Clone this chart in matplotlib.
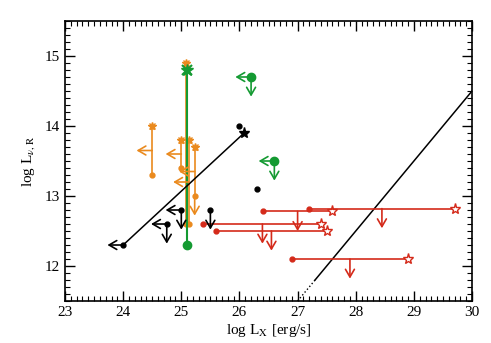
import matplotlib
matplotlib.use("Agg")
import matplotlib.pyplot as plt
import numpy as np
from matplotlib.ticker import MultipleLocator

plt.rcParams['font.family'] = ['Liberation Serif', 'DejaVu Serif']
plt.rcParams['mathtext.fontset'] = 'stix'

BLACK = 'black'
GREEN = '#149a32'
ORANGE = '#ea8a1e'
RED = '#d42a1a'

# black: correlated pair (dot -> star)
blk_line_x = [24.0, 26.08]
blk_line_y = [12.3, 13.9]
blk_dots_x = [26.0, 26.3]
blk_dots_y = [14.0, 13.1]
# black upper limits: x, y, left arrow?, down arrow?
blk_lim_x = [25.0, 24.75, 25.5]
blk_lim_y = [12.8, 12.6, 12.8]
blk_lim_left = [True, True, False]

# green
grn_bar_x = 25.1
grn_bar_top = 14.8
grn_bar_bot = 12.3
grn_lim_x = [26.2, 26.6]
grn_lim_y = [14.7, 13.5]

# orange: x, top (asterisk), bottom (dot)
org_x = [24.5, 25.0, 25.13, 25.23, 25.08]
org_top = [14.0, 13.8, 13.8, 13.7, 14.9]
org_bot = [13.3, 13.4, 12.6, 13.0, 12.6]
org_left = [True, True, True, True, False]
org_down = [False, False, False, True, False]

# red: dot x, star x, y
red_lo = [26.4, 27.2, 25.38, 25.6, 26.9]
red_hi = [27.6, 29.7, 27.41, 27.5, 28.9]
red_y = [12.78, 12.82, 12.6, 12.5, 12.1]

# relation line y = x - 15.5
rel_dot_x = [27.0, 27.3]
rel_x = [27.3, 30.0]

DX = 0.27
DY = 0.28


def arrow(ax, x, y, dx, dy, color):
    ax.annotate('', xy=(x + dx, y + dy), xytext=(x, y),
                arrowprops=dict(arrowstyle='->,head_length=0.55,head_width=0.32',
                                color=color, lw=1.2, shrinkA=0, shrinkB=0))


fig = plt.figure(figsize=(4.91, 3.43), dpi=100)
ax = fig.add_axes([0.1324, 0.1224, 0.829, 0.8164])

# relation lines
ax.plot(rel_dot_x, np.array(rel_dot_x) - 15.5, color=BLACK, lw=1, ls=':')
ax.plot(rel_x, np.array(rel_x) - 15.5, color=BLACK, lw=1.1)

# orange
for x, t, b, l, d in zip(org_x, org_top, org_bot, org_left, org_down):
    ax.plot([x, x], [t, b], color=ORANGE, lw=1.2)
    ax.plot(x, t, marker='*', color=ORANGE, ms=6, mew=1)
    ax.plot(x, t, marker='x', color=ORANGE, ms=4, mew=1)
    ax.plot(x, b, marker='o', color=ORANGE, ms=3.5)
    if l:
        arrow(ax, x, (t + b) / 2, -DX, 0, ORANGE)
    if d:
        arrow(ax, x, b, 0, -DY, ORANGE)

# green
ax.plot([grn_bar_x, grn_bar_x], [grn_bar_top, grn_bar_bot], color=GREEN, lw=1.5)
ax.plot(grn_bar_x, grn_bar_top, marker='*', color=GREEN, ms=9)
ax.plot(grn_bar_x, grn_bar_top, marker='x', color=GREEN, ms=7, mew=1.5)
ax.plot(grn_bar_x, grn_bar_bot, marker='o', color=GREEN, ms=6)
for x, y in zip(grn_lim_x, grn_lim_y):
    ax.plot(x, y, marker='o', color=GREEN, ms=6)
    arrow(ax, x, y, -DX, 0, GREEN)
    arrow(ax, x, y, 0, -DY, GREEN)

# black
ax.plot(blk_line_x, blk_line_y, color=BLACK, lw=1.1)
ax.plot(blk_line_x[0], blk_line_y[0], marker='o', color=BLACK, ms=3.5)
ax.plot(blk_line_x[1], blk_line_y[1], marker='*', color=BLACK, ms=8)
arrow(ax, blk_line_x[0], blk_line_y[0], -DX, 0, BLACK)
ax.plot(blk_dots_x, blk_dots_y, 'o', color=BLACK, ms=3.5)
for x, y, l in zip(blk_lim_x, blk_lim_y, blk_lim_left):
    ax.plot(x, y, marker='o', color=BLACK, ms=3.5)
    if l:
        arrow(ax, x, y, -DX, 0, BLACK)
    arrow(ax, x, y, 0, -DY, BLACK)

# red
for lo, hi, y in zip(red_lo, red_hi, red_y):
    ax.plot([lo, hi], [y, y], color=RED, lw=1.2)
    ax.plot(lo, y, marker='o', color=RED, ms=3.5)
    ax.plot(hi, y, marker='*', mfc='white', mec=RED, ms=8, mew=1)
    arrow(ax, (lo + hi) / 2, y, 0, -DY, RED)

ax.set_xlim(23, 30)
ax.set_ylim(11.5, 15.5)
ax.xaxis.set_major_locator(MultipleLocator(1))
ax.xaxis.set_minor_locator(MultipleLocator(0.1))
ax.yaxis.set_major_locator(MultipleLocator(1))
ax.yaxis.set_minor_locator(MultipleLocator(0.1))
ax.tick_params(which='both', direction='in', top=True, right=True, labelsize=11)
ax.tick_params(which='major', length=7, width=1)
ax.tick_params(which='minor', length=3.5, width=0.8)
for s in ax.spines.values():
    s.set_linewidth(1.2)

ax.set_xlabel(r'log L$_\mathrm{X}$ [erg/s]', fontsize=11, labelpad=2)
ax.set_ylabel(r'log L$_{\nu,\mathrm{R}}$', fontsize=11, labelpad=6)

fig.savefig('out.png', dpi=100)
